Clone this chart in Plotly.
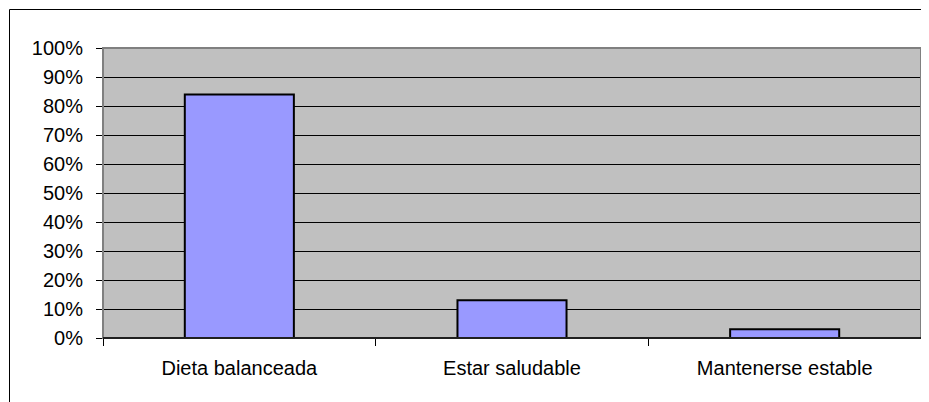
import plotly.graph_objects as go

categories = ["Dieta balanceada", "Estar saludable", "Mantenerse estable"]
values = [0.84, 0.13, 0.03]
y_ticks = [i / 10 for i in range(11)]

font_family = "Liberation Sans, Arial, sans-serif"

# page body adds an 8px offset, so the figure is sized to the visible area
fig = go.Figure()

fig.add_trace(go.Bar(
    x=categories,
    y=values,
    marker=dict(color="#9999FF", line=dict(color="black", width=2)),
    width=0.4,
    hoverinfo="x+y"
))

fig.update_layout(
    width=921,
    height=394,
    margin=dict(l=95, r=8, t=40, b=64),
    paper_bgcolor="white",
    plot_bgcolor="#C0C0C0",
    showlegend=False,
    font=dict(family=font_family, size=20, color="black"),
)

fig.update_xaxes(
    type="category",
    tickson="boundaries",
    ticks="outside",
    ticklen=7,
    tickcolor="black",
    showgrid=False,
    showline=False,
    ticklabelstandoff=16,
)

fig.update_yaxes(
    range=[0, 1],
    tickvals=y_ticks,
    tickformat=".0%",
    ticks="outside",
    ticklen=6,
    tickcolor="black",
    showgrid=True,
    gridcolor="black",
    gridwidth=1,
    zeroline=False,
    showline=False,
    ticklabelstandoff=9,
)

# plot area border (grey) and black category axis line
fig.add_shape(type="rect", xref="paper", yref="paper", x0=0, x1=1, y0=0, y1=1,
              line=dict(color="#808080", width=2), layer="above")
fig.add_shape(type="line", xref="paper", yref="paper", x0=0, x1=1, y0=0, y1=0,
              line=dict(color="black", width=1.5), layer="above")

# outer chart border (only left and top edges fall inside the picture)
x_left = (1.5 - 95) / 818
y_top = 1 + (40 - 1.5) / 290
fig.add_shape(type="line", xref="paper", yref="paper",
              x0=x_left, x1=x_left, y0=-0.5, y1=y_top,
              line=dict(color="black", width=1), layer="above")
fig.add_shape(type="line", xref="paper", yref="paper",
              x0=x_left, x1=1.2, y0=y_top, y1=y_top,
              line=dict(color="black", width=1), layer="above")

fig.write_html("out.html", config={"displayModeBar": False})
